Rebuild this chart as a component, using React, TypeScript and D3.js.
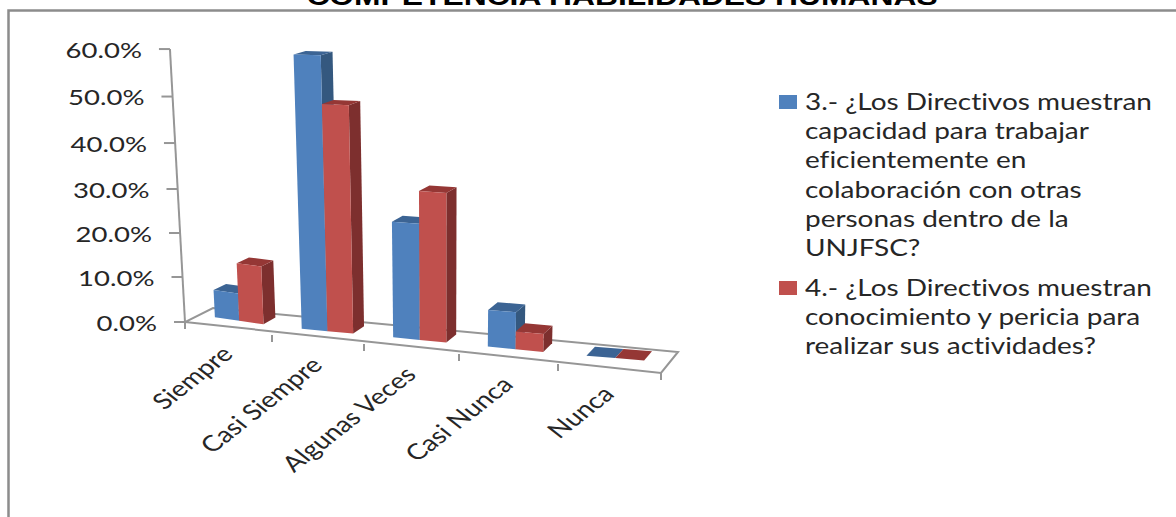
import React from "react";
import * as d3 from "d3";

const categories = ["Siempre", "Casi Siempre", "Algunas Veces", "Casi Nunca", "Nunca"];
const pregunta3 = [6, 59, 25, 7.7, 0];
const pregunta4 = [12.7, 49, 32, 3.7, 0];
const valueTicks = [0, 10, 20, 30, 40, 50, 60];
const chartTitle = "COMPETENCIA HABILIDADES HUMANAS";
const legend3 = [
  "3.- ¿Los Directivos muestran",
  "capacidad para trabajar",
  "eficientemente en",
  "colaboración con otras",
  "personas dentro de la",
  "UNJFSC?",
];
const legend4 = [
  "4.- ¿Los Directivos muestran",
  "conocimiento y pericia para",
  "realizar sus actividades?",
];

const BLUE = { front: "#4f81bd", side: "#34587f", top: "#3c6494" };
const RED = { front: "#c0504d", side: "#7d2f2e", top: "#953735" };
const AXIS = "#969696";
const INK = "#262626";
const FONT = "Lato, 'Open Sans', sans-serif";
const NO_LIGATURES = { fontVariantLigatures: "none" } as const;

// Perspective scales for the 3-D floor and the value axis.
const boundaries = d3.range(0, 6);
const frontX = d3.scaleLinear().domain(boundaries).range([185, 272, 364, 459, 558, 661]);
const frontY = d3.scaleLinear().domain(boundaries).range([322, 335, 344, 354, 364, 373]);
const depthX = d3.scaleLinear().domain([0, 5]).range([28, 17]);
const depthY = d3.scaleLinear().domain([0, 5]).range([14, 21]);
const valueY = d3.scaleLinear().domain(valueTicks).range([322, 277, 233, 189, 143, 96.5, 49]);
const VANISH_X = 445;
const CONVERGE = 0.000965;
const NEAR_GROWTH = 0.0002;

const BAR_START = 0.185;
const BAR_WIDTH = 0.283;
const DEPTH_FRONT = 0.5;
const DEPTH_BACK = 0.95;

function project(u: number, depth: number, value: number): [number, number] {
  const bx = frontX(u) + depthX(u) * depth;
  const by = frontY(u) - depthY(u) * depth;
  const x = bx + (bx - VANISH_X) * CONVERGE * value;
  // Tops flatten as they approach eye level near the upper end of the axis.
  const flatten = depthY(u) * Math.max(0, depth - DEPTH_FRONT) * (value / 60) * 0.6;
  const y = by + flatten - (322 - valueY(value)) * (1 + (bx - 186) * NEAR_GROWTH);
  return [x, y];
}

const line = d3.line();
const poly = (pts: [number, number][]) => line(pts) + "Z";

function Bar({ k, slot, value, tone }: { k: number; slot: number; value: number; tone: typeof BLUE }) {
  const u0 = k + BAR_START + slot * BAR_WIDTH;
  const u1 = u0 + BAR_WIDTH;
  const f = DEPTH_FRONT;
  const b = DEPTH_BACK;
  return (
    <g>
      <path
        d={poly([project(u1, f, 0), project(u1, b, 0), project(u1, b, value), project(u1, f, value)])}
        fill={tone.side}
      />
      <path
        d={poly([project(u0, f, value), project(u0, b, value), project(u1, b, value), project(u1, f, value)])}
        fill={tone.top}
      />
      {value > 0 && (
        <path
          d={poly([project(u0, f, 0), project(u1, f, 0), project(u1, f, value), project(u0, f, value)])}
          fill={tone.front}
        />
      )}
    </g>
  );
}

function Legend({ lines, top, color }: { lines: string[]; top: number; color: string }) {
  return (
    <g>
      <rect x={779} y={top - 7} width={18} height={14} fill={color} />
      <g transform={`translate(805 ${top}) scale(1.19 1)`}>
        {lines.map((t, i) => (
          <text key={t} x={0} y={i * 29.2 + 8} fontSize={23.5} fontFamily={FONT} fill={INK} style={NO_LIGATURES}>
            {t}
          </text>
        ))}
      </g>
    </g>
  );
}

export default function App() {
  const corner = (u: number, d: number) => project(u, d, 0);
  return (
    <svg
      width={1176}
      height={517}
      viewBox="0 0 1176 517"
      style={{ position: "fixed", left: 0, top: 0, display: "block", background: "#fff" }}
    >
      <g transform="translate(622 5) scale(1.2 1)">
        <text
          textAnchor="middle"
          fontFamily="'Liberation Sans', Arial, sans-serif"
          fontWeight={700}
          fontSize={26.5}
          fill="#000"
        >
          {chartTitle}
        </text>
      </g>
      <path d="M1176 10.5H8.5V517" fill="none" stroke="#8c8c8c" strokeWidth={2.5} />

      {/* value axis */}
      <path d={line([project(0, 0, 0), project(0, 0, 60)]) ?? ""} fill="none" stroke={AXIS} strokeWidth={2} />
      {valueTicks.map((v) => {
        const [x, y] = project(0, 0, v);
        return (
          <g key={v}>
            <line x1={x - 11} x2={x} y1={y} y2={y} stroke={AXIS} strokeWidth={2} />
            <g transform={`translate(${x - 28} ${y + 1}) scale(1.28 1)`}>
              <text textAnchor="end" dy="0.35em" fontSize={21.5} fontFamily={FONT} fill={INK}>
                {`${v.toFixed(1)}%`}
              </text>
            </g>
          </g>
        );
      })}

      {/* floor outline */}
      <path
        d={poly([corner(0, 0), corner(5, 0), corner(5, 1), corner(0, 1)])}
        fill="#fff"
        stroke={AXIS}
        strokeWidth={2}
      />
      {boundaries.map((u) => {
        const [x, y] = corner(u, 0);
        return <line key={u} x1={x} x2={x} y1={y} y2={y + 7} stroke={AXIS} strokeWidth={2} />;
      })}

      {/* bars */}
      {categories.map((c, k) => (
        <g key={c}>
          <Bar k={k} slot={0} value={pregunta3[k]} tone={BLUE} />
          <Bar k={k} slot={1} value={pregunta4[k]} tone={RED} />
        </g>
      ))}

      {/* category labels */}
      {categories.map((c, k) => {
        const [x, y] = corner(k + 0.5, 0);
        return (
          <g key={c} transform={`translate(${x + 6} ${y + 27}) scale(1.27 1) rotate(-45)`}>
            <text textAnchor="end" fontSize={22} fontFamily={FONT} fill={INK} style={NO_LIGATURES}>
              {c}
            </text>
          </g>
        );
      })}

      <Legend lines={legend3} top={102} color={BLUE.front} />
      <Legend lines={legend4} top={288} color={RED.front} />
    </svg>
  );
}
